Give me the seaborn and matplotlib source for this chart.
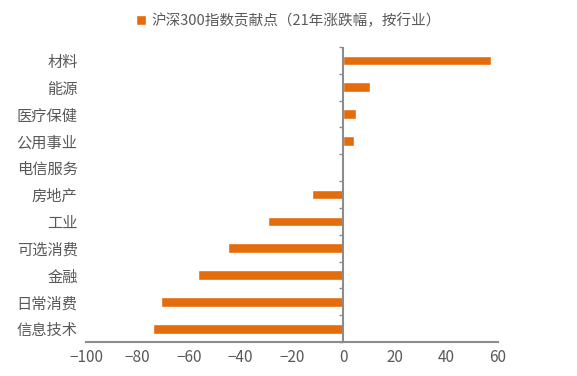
import numpy as np
import pandas as pd
import matplotlib
matplotlib.use("Agg")
import matplotlib.pyplot as plt
import seaborn as sns

# data
industries = ["材料", "能源", "医疗保健", "公用事业", "电信服务", "房地产",
              "工业", "可选消费", "金融", "日常消费", "信息技术"]
contribution = [57.3, 10.5, 4.7, 4.0, -0.6, -12.4, -29.2, -45.0, -56.5, -70.7, -73.9]
series_name = "沪深300指数贡献点（21年涨跌幅，按行业）"
x_ticks = [-100, -80, -60, -40, -20, 0, 20, 40, 60]

df = pd.DataFrame({"industry": industries, "value": contribution})

sns.set_theme(style="white")
plt.rcParams["font.family"] = ["Noto Sans CJK SC", "DejaVu Sans"]
plt.rcParams["axes.unicode_minus"] = True

text_c = "#595959"
axis_c = "#8C8C8C"
bar_c = "#E46C0A"

fig, ax = plt.subplots(figsize=(5.77, 3.76), dpi=100)
fig.subplots_adjust(left=0.149, right=0.863, top=0.875, bottom=0.09)

sns.barplot(data=df, x="value", y="industry", color=bar_c, width=0.36,
            saturation=1, label=series_name, ax=ax)
if ax.get_legend() is not None:
    ax.get_legend().remove()

ax.set_xlim(-100, 60)
ax.set_ylim(10.5, -0.5)
ax.set_xticks(x_ticks)
ax.set_xlabel("")
ax.set_ylabel("")

for s in ["top", "right", "left"]:
    ax.spines[s].set_visible(False)
ax.spines["bottom"].set_visible(True)
ax.spines["bottom"].set_edgecolor(axis_c)
ax.spines["bottom"].set_linewidth(1.5)
ax.tick_params(axis="x", direction="inout", length=6, width=1.0, color=axis_c,
               labelsize=11, labelcolor=text_c, pad=2)
ax.tick_params(axis="y", length=0, labelsize=11, labelcolor=text_c, pad=6)

# vertical axis at zero
ax.axvline(0, color=axis_c, lw=1.5, zorder=5)
# tick marks between categories on the zero axis
sec = ax.twinx()
sec.set_ylim(ax.get_ylim())
sec.set_yticks(np.arange(-0.5, len(industries), 1))
sec.set_yticklabels([])
for s in sec.spines.values():
    s.set_visible(False)
sec.spines["left"].set_position(("axes", 100 / 160))
sec.yaxis.set_ticks_position("left")
sec.tick_params(axis="y", direction="out", length=3, width=1.0, color=axis_c,
                labelleft=False, labelright=False)

handles, labels = ax.get_legend_handles_labels()
fig.legend(handles[:1], labels[:1], loc="upper center", bbox_to_anchor=(0.5, 1.0),
           frameon=False, handlelength=0.7, handleheight=0.7, handletextpad=0.4,
           fontsize=10.5, labelcolor=text_c)

plt.savefig("out.png", dpi=100)
